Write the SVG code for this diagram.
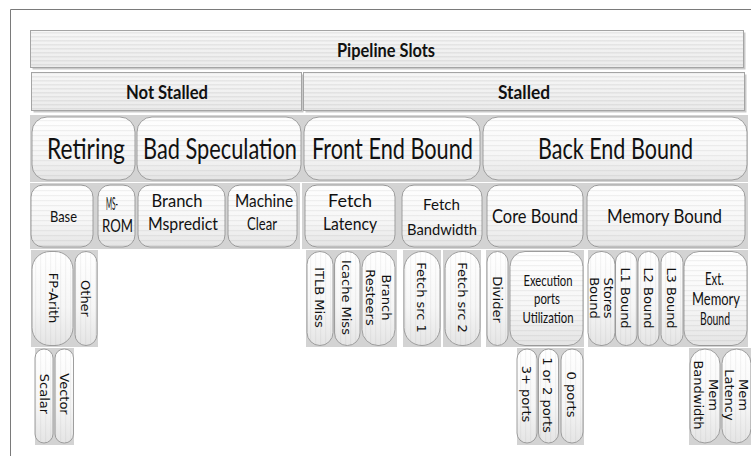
<svg xmlns="http://www.w3.org/2000/svg" width="751" height="456" viewBox="0 0 751 456">
<defs>
<linearGradient id="g" x1="0" y1="0" x2="0" y2="1">
<stop offset="0" stop-color="#ffffff"/><stop offset="0.6" stop-color="#f6f6f6"/><stop offset="1" stop-color="#e4e4e4"/>
</linearGradient>
<linearGradient id="gb" x1="0" y1="0" x2="0" y2="1">
<stop offset="0" stop-color="#f7f7f7"/><stop offset="1" stop-color="#ebebeb"/>
</linearGradient>
<pattern id="sh" width="8" height="5" patternUnits="userSpaceOnUse"><rect width="8" height="1.2" fill="#000" fill-opacity="0.05"/></pattern>
<pattern id="sv" width="5" height="8" patternUnits="userSpaceOnUse"><rect width="1.2" height="8" fill="#000" fill-opacity="0.04"/></pattern>
<pattern id="sb" width="8" height="4" patternUnits="userSpaceOnUse"><rect width="8" height="1.5" fill="#000" fill-opacity="0.06"/></pattern>
<style>
.cell{fill:#d3d3d3}
.box{fill:url(#g);stroke:#9e9e9e;stroke-width:1}
.sh{fill:url(#sh)}
.sv{fill:url(#sv)}
.bar{fill:url(#gb);stroke:#a4a4a4;stroke-width:1}
.bs{fill:url(#sb)}
.shadow{fill:#c9c9c9}
text{font-family:Lato,"Open Sans","Liberation Sans",sans-serif;fill:#111;text-anchor:middle}
.b{font-weight:bold;font-size:19px}
.t3{font-size:28px}
.t4{font-size:17px}
.t4s{font-size:15px}
.t4l{font-size:20px}
.t5{font-size:15px}
.t5l{font-size:17px}
.v{font-family:"DejaVu Sans","Liberation Sans",sans-serif;font-size:13px}
.frame{fill:none;stroke:#7a7a7a;stroke-width:1}
</style>
</defs>
<rect width="751" height="456" fill="#ffffff"/>
<path class="frame" d="M10.5,456 V9.5 H751"/>
<g id="connectors"/>

<g id="n-pipeline-slots">
<rect class="shadow" x="32.5" y="32.5" width="713" height="37"/>
<rect class="bar" x="30.5" y="30.5" width="713" height="37"/>
<rect class="bs" x="31" y="31" width="712" height="36"/>
<text class="b" x="386" y="56.5" textLength="98" lengthAdjust="spacingAndGlyphs">Pipeline Slots</text>
</g>
<g id="n-not-stalled">
<rect class="shadow" x="33.5" y="74.5" width="270" height="38"/>
<rect class="bar" x="31.5" y="72.5" width="270" height="38"/>
<rect class="bs" x="32" y="73" width="269" height="37"/>
<text class="b" x="167" y="98.5" textLength="82" lengthAdjust="spacingAndGlyphs">Not Stalled</text>
</g>
<g id="n-stalled">
<rect class="shadow" x="305.5" y="74.5" width="441" height="38"/>
<rect class="bar" x="303.5" y="72.5" width="441" height="38"/>
<rect class="bs" x="304" y="73" width="440" height="37"/>
<text class="b" x="524" y="98.5" textLength="52" lengthAdjust="spacingAndGlyphs">Stalled</text>
</g>

<g id="n-retiring">
<rect class="cell" x="30" y="115" width="106" height="67"/>
<rect class="box" x="32" y="117" width="103" height="63" rx="15"/>
<rect class="sh" x="32" y="117" width="103" height="63" rx="15"/>
<text class="t3" x="86" y="159" textLength="78" lengthAdjust="spacingAndGlyphs">Retiring</text>
</g>
<g id="n-bad-speculation">
<rect class="cell" x="136" y="115" width="166" height="67"/>
<rect class="box" x="137" y="117" width="164" height="63" rx="15"/>
<rect class="sh" x="137" y="117" width="164" height="63" rx="15"/>
<text class="t3" x="220" y="159" textLength="154" lengthAdjust="spacingAndGlyphs">Bad Speculation</text>
</g>
<g id="n-front-end-bound">
<rect class="cell" x="302" y="115" width="180" height="67"/>
<rect class="box" x="304" y="117" width="176" height="63" rx="15"/>
<rect class="sh" x="304" y="117" width="176" height="63" rx="15"/>
<text class="t3" x="392.5" y="159" textLength="161" lengthAdjust="spacingAndGlyphs">Front End Bound</text>
</g>
<g id="n-back-end-bound">
<rect class="cell" x="482" y="115" width="266" height="67"/>
<rect class="box" x="483" y="117" width="264" height="63" rx="15"/>
<rect class="sh" x="483" y="117" width="264" height="63" rx="15"/>
<text class="t3" x="615.5" y="159" textLength="155" lengthAdjust="spacingAndGlyphs">Back End Bound</text>
</g>

<g id="n-base">
<rect class="cell" x="30" y="183" width="67" height="66"/>
<rect class="box" x="31" y="185" width="62" height="62" rx="12"/>
<rect class="sh" x="31" y="185" width="62" height="62" rx="12"/>
<text class="t4s" x="63.5" y="222" textLength="27" lengthAdjust="spacingAndGlyphs">Base</text>
</g>
<g id="n-ms-rom">
<rect class="cell" x="97" y="183" width="39" height="66"/>
<rect class="box" x="98" y="185" width="37" height="62" rx="12"/>
<rect class="sh" x="98" y="185" width="37" height="62" rx="12"/>
<text class="t4" x="112" y="209.5" textLength="12" lengthAdjust="spacingAndGlyphs">MS-</text>
<text class="t4" x="117.5" y="232" textLength="31" lengthAdjust="spacingAndGlyphs">ROM</text>
</g>
<g id="n-branch-mispredict">
<rect class="cell" x="136" y="183" width="91" height="66"/>
<rect class="box" x="138" y="185" width="87" height="62" rx="12"/>
<rect class="sh" x="138" y="185" width="87" height="62" rx="12"/>
<text class="t4" x="177" y="206.5" textLength="51" lengthAdjust="spacingAndGlyphs">Branch</text>
<text class="t4" x="183" y="229.5" textLength="70" lengthAdjust="spacingAndGlyphs">Mspredict</text>
</g>
<g id="n-machine-clear">
<rect class="cell" x="227" y="183" width="73" height="66"/>
<rect class="box" x="228" y="185" width="69" height="62" rx="12"/>
<rect class="sh" x="228" y="185" width="69" height="62" rx="12"/>
<text class="t4" x="264" y="206.5" textLength="58" lengthAdjust="spacingAndGlyphs">Machine</text>
<text class="t4" x="262" y="229.5" textLength="30" lengthAdjust="spacingAndGlyphs">Clear</text>
</g>
<g id="n-fetch-latency">
<rect class="cell" x="302" y="183" width="97" height="66"/>
<rect class="box" x="305" y="185" width="90" height="62" rx="12"/>
<rect class="sh" x="305" y="185" width="90" height="62" rx="12"/>
<text class="t4" x="350" y="206.5" textLength="44" lengthAdjust="spacingAndGlyphs">Fetch</text>
<text class="t4" x="350" y="229.5" textLength="54" lengthAdjust="spacingAndGlyphs">Latency</text>
</g>
<g id="n-fetch-bandwidth">
<rect class="cell" x="399" y="183" width="86" height="66"/>
<rect class="box" x="402" y="185" width="80" height="62" rx="12"/>
<rect class="sh" x="402" y="185" width="80" height="62" rx="12"/>
<text class="t4s" x="441.5" y="210" textLength="37" lengthAdjust="spacingAndGlyphs">Fetch</text>
<text class="t4s" x="442" y="234.5" textLength="70" lengthAdjust="spacingAndGlyphs">Bandwidth</text>
</g>
<g id="n-core-bound">
<rect class="cell" x="485" y="183" width="100" height="66"/>
<rect class="box" x="487" y="185" width="96" height="62" rx="12"/>
<rect class="sh" x="487" y="185" width="96" height="62" rx="12"/>
<text class="t4l" x="535" y="223" textLength="86" lengthAdjust="spacingAndGlyphs">Core Bound</text>
</g>
<g id="n-memory-bound">
<rect class="cell" x="585" y="183" width="163" height="66"/>
<rect class="box" x="587" y="185" width="158" height="62" rx="12"/>
<rect class="sh" x="587" y="185" width="158" height="62" rx="12"/>
<text class="t4l" x="664.5" y="223" textLength="115" lengthAdjust="spacingAndGlyphs">Memory Bound</text>
</g>

<g id="n-fp-arith">
<rect class="cell" x="31" y="250" width="44" height="97"/>
<rect class="box" x="32" y="251.5" width="41" height="94" rx="18"/>
<rect class="sv" x="32" y="251.5" width="41" height="94" rx="18"/>
<text class="v" transform="translate(54,298) rotate(90)" y="4.7">FP-Arith</text>
</g>
<g id="n-other">
<rect class="cell" x="75" y="250" width="23" height="97"/>
<rect class="box" x="75" y="251.5" width="22" height="94" rx="11"/>
<rect class="sv" x="75" y="251.5" width="22" height="94" rx="11"/>
<text class="v" transform="translate(85.5,298.5) rotate(90)" y="4.7">Other</text>
</g>
<g id="n-itlb-miss">
<rect class="cell" x="306" y="250" width="28" height="97"/>
<rect class="box" x="307" y="251.5" width="26" height="94" rx="13"/>
<rect class="sv" x="307" y="251.5" width="26" height="94" rx="13"/>
<text class="v" transform="translate(320,297.5) rotate(90)" y="4.7">ITLB Miss</text>
</g>
<g id="n-icache-miss">
<rect class="cell" x="334" y="250" width="27" height="97"/>
<rect class="box" x="334.5" y="251.5" width="25.5" height="94" rx="12.5"/>
<rect class="sv" x="334.5" y="251.5" width="25.5" height="94" rx="12.5"/>
<text class="v" transform="translate(347,297.5) rotate(90)" y="4.7">Icache Miss</text>
</g>
<g id="n-branch-resteers">
<rect class="cell" x="361" y="250" width="36" height="97"/>
<rect class="box" x="362" y="251.5" width="33" height="94" rx="16"/>
<rect class="sv" x="362" y="251.5" width="33" height="94" rx="16"/>
<text class="v" transform="translate(378.75,297.5) rotate(90)"><tspan x="0" y="-3">Branch</tspan><tspan x="0" y="12.5">Resteers</tspan></text>
</g>
<g id="n-fetch-src-1">
<rect class="cell" x="403" y="250" width="38" height="97"/>
<rect class="box" x="404" y="251.5" width="36" height="94" rx="18"/>
<rect class="sv" x="404" y="251.5" width="36" height="94" rx="18"/>
<text class="v" transform="translate(422,297.5) rotate(90)" y="4.7">Fetch src 1</text>
</g>
<g id="n-fetch-src-2">
<rect class="cell" x="443" y="250" width="38" height="97"/>
<rect class="box" x="445" y="251.5" width="35" height="94" rx="17"/>
<rect class="sv" x="445" y="251.5" width="35" height="94" rx="17"/>
<text class="v" transform="translate(462.5,297.5) rotate(90)" y="4.7">Fetch src 2</text>
</g>
<g id="n-divider">
<rect class="cell" x="486" y="250" width="23" height="97"/>
<rect class="box" x="487" y="251.5" width="21" height="94" rx="10.5"/>
<rect class="sv" x="487" y="251.5" width="21" height="94" rx="10.5"/>
<text class="v" transform="translate(497.5,299.5) rotate(90)" y="4.7">Divider</text>
</g>
<g id="n-execution-ports-utilization">
<rect class="cell" x="509" y="250" width="75" height="97"/>
<rect class="box" x="510" y="251.5" width="73" height="94" rx="15"/>
<rect class="sh" x="510" y="251.5" width="73" height="94" rx="15"/>
<text class="t5" x="548" y="285.5" textLength="49" lengthAdjust="spacingAndGlyphs">Execution</text>
<text class="t5" x="547" y="304" textLength="26" lengthAdjust="spacingAndGlyphs">ports</text>
<text class="t5" x="548" y="322.5" textLength="51" lengthAdjust="spacingAndGlyphs">Utilization</text>
</g>
<g id="n-stores-bound">
<rect class="cell" x="588" y="250" width="27" height="97"/>
<rect class="box" x="588" y="251.5" width="27" height="94" rx="13"/>
<rect class="sv" x="588" y="251.5" width="27" height="94" rx="13"/>
<text class="v" transform="translate(601.5,298) rotate(90)"><tspan x="0" y="-2">Stores</tspan><tspan x="0" y="11.4">Bound</tspan></text>
</g>
<g id="n-l1-bound">
<rect class="cell" x="615" y="250" width="23" height="97"/>
<rect class="box" x="615.5" y="251.5" width="21.5" height="94" rx="10.5"/>
<rect class="sv" x="615.5" y="251.5" width="21.5" height="94" rx="10.5"/>
<text class="v" transform="translate(626,298) rotate(90)" y="4.7">L1 Bound</text>
</g>
<g id="n-l2-bound">
<rect class="cell" x="638" y="250" width="22" height="97"/>
<rect class="box" x="638" y="251.5" width="21" height="94" rx="10.5"/>
<rect class="sv" x="638" y="251.5" width="21" height="94" rx="10.5"/>
<text class="v" transform="translate(648.5,298) rotate(90)" y="4.7">L2 Bound</text>
</g>
<g id="n-l3-bound">
<rect class="cell" x="660" y="250" width="24" height="97"/>
<rect class="box" x="661" y="251.5" width="22" height="94" rx="11"/>
<rect class="sv" x="661" y="251.5" width="22" height="94" rx="11"/>
<text class="v" transform="translate(672,298) rotate(90)" y="4.7">L3 Bound</text>
</g>
<g id="n-ext-memory-bound">
<rect class="cell" x="684" y="250" width="64" height="97"/>
<rect class="box" x="684" y="251.5" width="63" height="94" rx="15"/>
<rect class="sh" x="684" y="251.5" width="63" height="94" rx="15"/>
<text class="t5l" x="714.5" y="285" textLength="19" lengthAdjust="spacingAndGlyphs">Ext.</text>
<text class="t5l" x="716" y="305" textLength="48" lengthAdjust="spacingAndGlyphs">Memory</text>
<text class="t5l" x="715" y="325" textLength="30" lengthAdjust="spacingAndGlyphs">Bound</text>
</g>

<g id="n-scalar">
<rect class="cell" x="35" y="348" width="19" height="97"/>
<rect class="box" x="35" y="349" width="18" height="94" rx="9"/>
<rect class="sv" x="35" y="349" width="18" height="94" rx="9"/>
<text class="v" transform="translate(44.5,394) rotate(90)" y="4.7">Scalar</text>
</g>
<g id="n-vector">
<rect class="cell" x="54" y="348" width="20" height="97"/>
<rect class="box" x="55" y="349" width="18.5" height="94" rx="9"/>
<rect class="sv" x="55" y="349" width="18.5" height="94" rx="9"/>
<text class="v" transform="translate(64.5,394) rotate(90)" y="4.7">Vector</text>
</g>
<g id="n-3-ports">
<rect class="cell" x="517" y="348" width="21" height="97"/>
<rect class="box" x="517" y="349" width="20" height="94" rx="10"/>
<rect class="sv" x="517" y="349" width="20" height="94" rx="10"/>
<text class="v" transform="translate(527,394) rotate(90)" y="4.7">3+ ports</text>
</g>
<g id="n-1-or-2-ports">
<rect class="cell" x="538" y="348" width="21" height="97"/>
<rect class="box" x="538.5" y="349" width="20" height="94" rx="10"/>
<rect class="sv" x="538.5" y="349" width="20" height="94" rx="10"/>
<text class="v" transform="translate(548,395) rotate(90)" y="4.7">1 or 2 ports</text>
</g>
<g id="n-0-ports">
<rect class="cell" x="559" y="348" width="25" height="97"/>
<rect class="box" x="561" y="349" width="22" height="94" rx="11"/>
<rect class="sv" x="561" y="349" width="22" height="94" rx="11"/>
<text class="v" transform="translate(572,394.5) rotate(90)" y="4.7">0 ports</text>
</g>
<g id="n-mem-bandwidth">
<rect class="cell" x="689" y="348" width="32" height="97"/>
<rect class="box" x="690" y="349" width="30" height="94" rx="15"/>
<rect class="sv" x="690" y="349" width="30" height="94" rx="15"/>
<text class="v" transform="translate(706,395) rotate(90)"><tspan x="0" y="-2.5">Mem</tspan><tspan x="0" y="12">Bandwidth</tspan></text>
</g>
<g id="n-mem-latency">
<rect class="cell" x="721" y="348" width="31" height="97"/>
<rect class="box" x="722" y="349" width="29" height="94" rx="14.5"/>
<rect class="sv" x="722" y="349" width="29" height="94" rx="14.5"/>
<text class="v" transform="translate(737,395) rotate(90)"><tspan x="0" y="-2.3">Mem</tspan><tspan x="0" y="11.7">Latency</tspan></text>
</g>
</svg>
